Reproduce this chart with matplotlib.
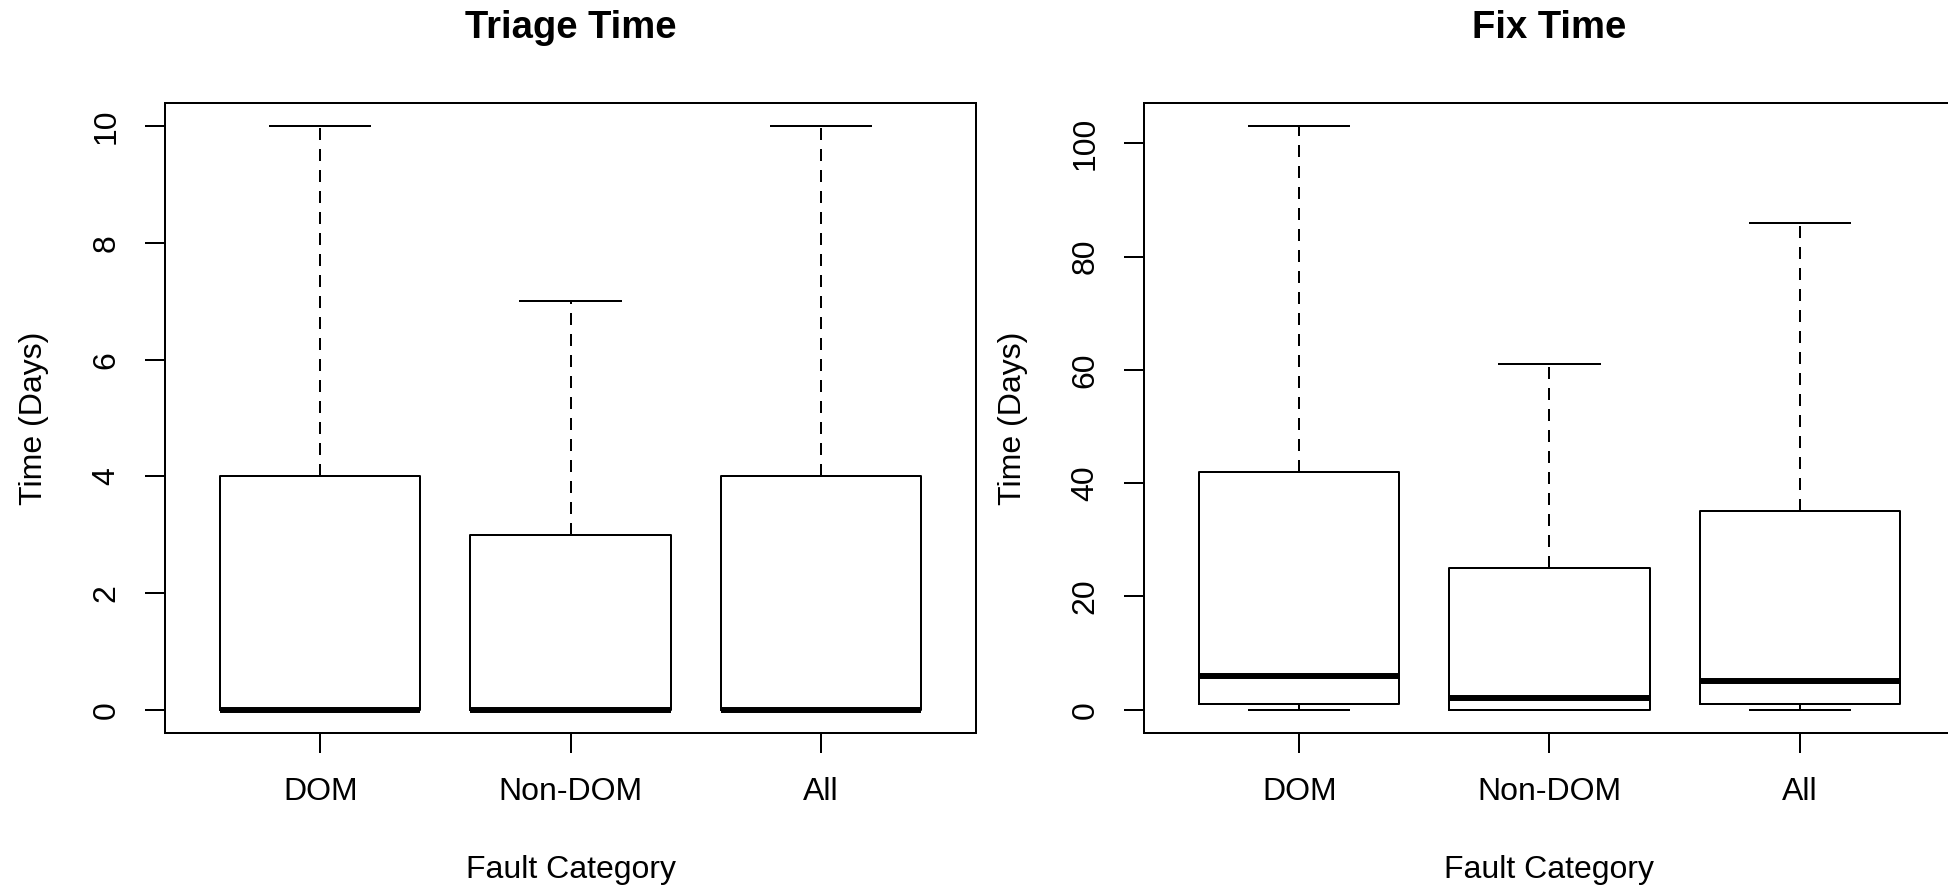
import matplotlib
matplotlib.use("Agg")
import matplotlib.pyplot as plt

plt.rcParams["font.family"] = ["Liberation Sans", "DejaVu Sans"]

categories = ["DOM", "Non-DOM", "All"]

# five-number summaries: low whisker, q1, median, q3, high whisker
triage_lo = [0, 0, 0]
triage_q1 = [0, 0, 0]
triage_med = [0, 0, 0]
triage_q3 = [4, 3, 4]
triage_hi = [10, 7, 10]

fix_lo = [0, 0, 0]
fix_q1 = [1, 0, 1]
fix_med = [6, 2, 5]
fix_q3 = [42, 25, 35]
fix_hi = [103, 61, 86]

triage_ticks = [0, 2, 4, 6, 8, 10]
fix_ticks = [0, 20, 40, 60, 80, 100]

W, H = 1949, 886
LW = 1.44
FS = 23


def stats(lo, q1, med, q3, hi, labels):
    return [{"whislo": a, "q1": b, "med": c, "q3": d, "whishi": e,
             "fliers": [], "label": lab}
            for a, b, c, d, e, lab in zip(lo, q1, med, q3, hi, labels)]


def panel(rect, st, ticks, ymax, title):
    ax = fig.add_axes(rect)
    ax.bxp(st, positions=[1, 2, 3], widths=0.8, capwidths=0.4, showfliers=False,
           boxprops=dict(color="black", lw=LW),
           whiskerprops=dict(color="black", lw=LW, linestyle=(0, (6, 4.5))),
           capprops=dict(color="black", lw=LW),
           medianprops=dict(color="black", lw=4.3, solid_capstyle="butt"))
    ax.set_xlim(0.38, 3.62)
    pad = ymax * 0.04
    ax.set_ylim(-pad, ymax + pad)
    ax.set_yticks(ticks)
    ax.set_yticklabels([str(t) for t in ticks], rotation=90, va="center")
    ax.tick_params(direction="out", length=14.4, width=LW, labelsize=FS,
                   color="black")
    ax.tick_params(axis="y", pad=17)
    ax.tick_params(axis="x", pad=17)
    for s in ax.spines.values():
        s.set_linewidth(LW)
    ax.set_xlabel("Fault Category", fontsize=FS)
    ax.set_ylabel("Time (Days)", fontsize=FS)
    ax.yaxis.set_label_coords(-(165 - 49) / 811, 0.5)
    ax.xaxis.set_label_coords(0.5, -(878 - 733) / 630)
    ax.xaxis.label.set_va("baseline")
    ax.set_title(title, fontsize=27.5, fontweight="bold", pad=46.8)
    return ax


fig = plt.figure(figsize=(W / 100, H / 100), dpi=100)
panel([165 / W, (H - 733) / H, 811 / W, 630 / H],
      stats(triage_lo, triage_q1, triage_med, triage_q3, triage_hi, categories),
      triage_ticks, 10, "Triage Time")
panel([1144 / W, (H - 733) / H, 811 / W, 630 / H],
      stats(fix_lo, fix_q1, fix_med, fix_q3, fix_hi, categories),
      fix_ticks, 103, "Fix Time")
fig.savefig("out.png", dpi=100)
